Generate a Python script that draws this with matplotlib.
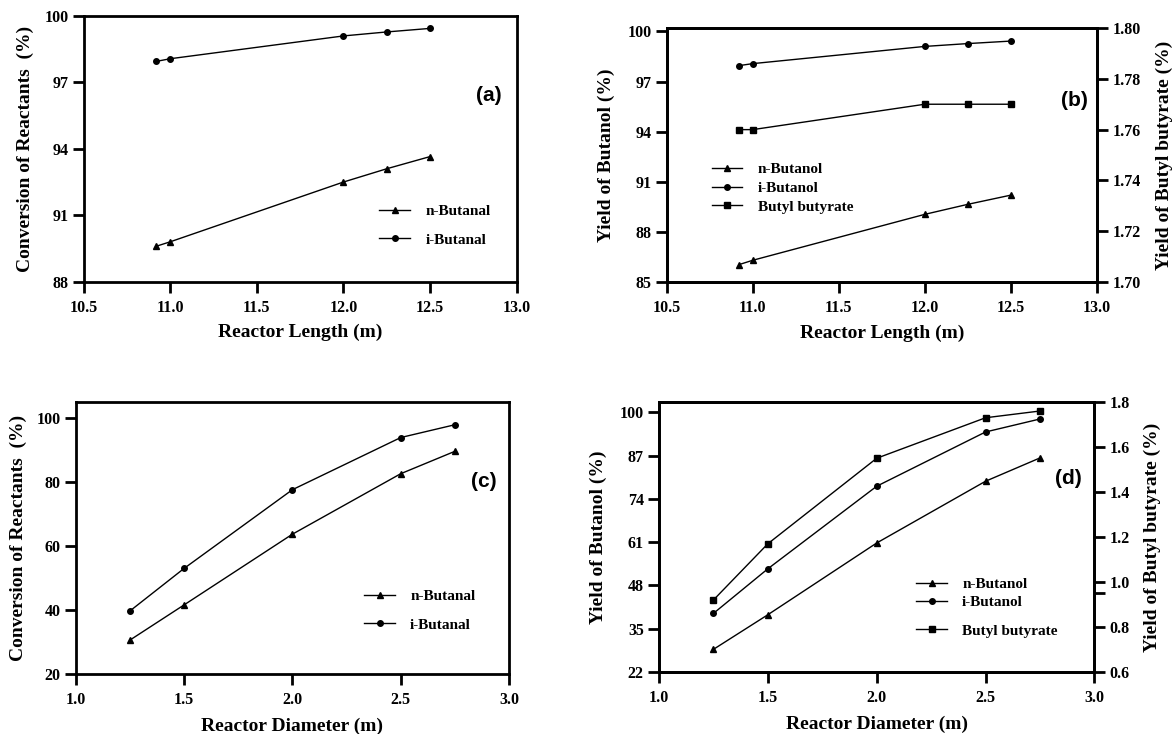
import matplotlib
matplotlib.use('Agg')
import matplotlib.pyplot as plt
from matplotlib.lines import Line2D
from matplotlib.ticker import FormatStrFormatter

plt.rcParams['font.family'] = ['Liberation Serif', 'DejaVu Serif']
plt.rcParams['font.weight'] = 'bold'
plt.rcParams['axes.labelweight'] = 'bold'

# reactor length runs
length = [10.92, 11.0, 12.0, 12.25, 12.5]
conv_n_len = [89.6, 89.8, 92.5, 93.1, 93.65]
conv_i_len = [97.95, 98.07, 99.1, 99.28, 99.44]
yield_n_len = [86.04, 86.3, 89.05, 89.65, 90.2]
yield_i_len = [97.95, 98.07, 99.1, 99.27, 99.42]
yield_bb_len = [1.76, 1.76, 1.77, 1.77, 1.77]

# reactor diameter runs
diameter = [1.25, 1.5, 2.0, 2.5, 2.75]
conv_n_dia = [30.6, 41.6, 63.7, 82.6, 89.6]
conv_i_dia = [39.7, 53.0, 77.6, 93.9, 97.9]
yield_n_dia = [28.8, 39.2, 60.75, 79.3, 86.3]
yield_i_dia = [39.6, 53.0, 77.8, 94.1, 98.0]
yield_bb_dia = [0.92, 1.17, 1.55, 1.73, 1.76]

LW = 1.0
TICK_FS = 11.5
LABEL_FS = 14
LEG_FS = 11


def style(ax):
    for s in ax.spines.values():
        s.set_linewidth(2.0)
    ax.tick_params(axis='both', which='both', direction='out', length=8,
                   width=2.0, labelsize=TICK_FS)
    ax.tick_params(axis='x', pad=5)
    ax.tick_params(axis='y', pad=3)
    ax.xaxis.set_major_formatter(FormatStrFormatter('%.1f'))


def handle(marker, ms):
    return Line2D([], [], color='black', lw=LW, marker=marker, markersize=ms)


def legend(ax, handles, labels, x, y, spacing):
    leg = ax.legend(handles, labels, loc='upper left', bbox_to_anchor=(x, y),
                    frameon=False, borderpad=0, borderaxespad=0,
                    handlelength=2.0, handletextpad=1.0, labelspacing=spacing,
                    prop={'size': LEG_FS, 'weight': 'bold'})
    return leg


def tag(ax, text, x, y):
    ax.text(x, y, text, transform=ax.transAxes, ha='center', va='center',
            fontsize=15, fontweight='bold', family=['Liberation Sans', 'DejaVu Sans'])


fig = plt.figure(figsize=(11.76, 7.34), dpi=100)

# (a) conversion vs length
ax = fig.add_axes([0.0711, 0.6163, 0.3683, 0.3619])
ax.plot(length, conv_n_len, '-^', color='black', lw=LW, ms=5)
ax.plot(length, conv_i_len, '-o', color='black', lw=LW, ms=4)
ax.set_xlim(10.5, 13.0)
ax.set_ylim(88, 100)
ax.set_xticks([10.5, 11.0, 11.5, 12.0, 12.5, 13.0])
ax.set_yticks([88, 91, 94, 97, 100])
style(ax)
ax.set_xlabel('Reactor Length (m)', fontsize=LABEL_FS, labelpad=6)
ax.set_ylabel('Conversion of Reactants  (%)', fontsize=LABEL_FS, labelpad=7)
legend(ax, [handle('^', 5), handle('o', 4)], ['n-Butanal', 'i-Butanal'],
       0.683, 0.29, 0.95)
tag(ax, '(a)', 0.935, 0.70)

# (b) yield vs length
ax = fig.add_axes([0.5669, 0.6158, 0.3659, 0.3460])
ax2 = ax.twinx()
ax.plot(length, yield_n_len, '-^', color='black', lw=LW, ms=5)
ax.plot(length, yield_i_len, '-o', color='black', lw=LW, ms=4)
ax2.plot(length, yield_bb_len, '-s', color='black', lw=LW, ms=4.5)
ax.set_xlim(10.5, 13.0)
ax.set_ylim(85, 100.2)
ax2.set_ylim(1.70, 1.80)
ax.set_xticks([10.5, 11.0, 11.5, 12.0, 12.5, 13.0])
ax.set_yticks([85, 88, 91, 94, 97, 100])
ax2.set_yticks([1.70, 1.72, 1.74, 1.76, 1.78, 1.80])
style(ax)
style(ax2)
ax2.yaxis.set_major_formatter(FormatStrFormatter('%.2f'))
ax.set_xlabel('Reactor Length (m)', fontsize=LABEL_FS, labelpad=6)
ax.set_ylabel('Yield of Butanol (%)', fontsize=LABEL_FS, labelpad=9)
ax2.set_ylabel('Yield of Butyl butyrate (%)', fontsize=LABEL_FS, labelpad=11)
legend(ax2, [handle('^', 5), handle('o', 4), handle('s', 4.5)],
       ['n-Butanol', 'i-Butanol', 'Butyl butyrate'], 0.105, 0.47, 0.33)
tag(ax, '(b)', 0.947, 0.716)

# (c) conversion vs diameter
ax = fig.add_axes([0.0644, 0.0817, 0.3685, 0.3706])
ax.plot(diameter, conv_n_dia, '-^', color='black', lw=LW, ms=5)
ax.plot(diameter, conv_i_dia, '-o', color='black', lw=LW, ms=4)
ax.set_xlim(1.0, 3.0)
ax.set_ylim(20, 105)
ax.set_xticks([1.0, 1.5, 2.0, 2.5, 3.0])
ax.set_yticks([20, 40, 60, 80, 100])
style(ax)
ax.set_xlabel('Reactor Diameter (m)', fontsize=LABEL_FS, labelpad=7)
ax.set_ylabel('Conversion of Reactants  (%)', fontsize=LABEL_FS, labelpad=7)
legend(ax, [handle('^', 5), handle('o', 4)], ['n-Butanal', 'i-Butanal'],
       0.666, 0.31, 0.95)
tag(ax, '(c)', 0.942, 0.707)

# (d) yield vs diameter
ax = fig.add_axes([0.5604, 0.0845, 0.3702, 0.3678])
ax2 = ax.twinx()
ax.plot(diameter, yield_n_dia, '-^', color='black', lw=LW, ms=5)
ax.plot(diameter, yield_i_dia, '-o', color='black', lw=LW, ms=4)
ax2.plot(diameter, yield_bb_dia, '-s', color='black', lw=LW, ms=4.5)
ax.set_xlim(1.0, 3.0)
ax.set_ylim(22, 103.1)
ax2.set_ylim(0.6, 1.8)
ax.set_xticks([1.0, 1.5, 2.0, 2.5, 3.0])
ax.set_yticks([22, 35, 48, 61, 74, 87, 100])
ax2.set_yticks([0.6, 0.8, 1.0, 1.2, 1.4, 1.6, 1.8])
ax2.set_yticks([0.95], minor=True)
style(ax)
style(ax2)
ax2.yaxis.set_major_formatter(FormatStrFormatter('%.1f'))
ax.set_xlabel('Reactor Diameter (m)', fontsize=LABEL_FS, labelpad=7)
ax.set_ylabel('Yield of Butanol (%)', fontsize=LABEL_FS, labelpad=9)
ax2.set_ylabel('Yield of Butyl butyrate (%)', fontsize=LABEL_FS, labelpad=10)
leg = legend(ax2, [handle('^', 5), handle('o', 4)], ['n-Butanol', 'i-Butanol'],
             0.591, 0.35, 0.3)
ax2.add_artist(leg)
legend(ax2, [handle('s', 4.5)], ['Butyl butyrate'], 0.591, 0.178, 0.1)
tag(ax, '(d)', 0.941, 0.717)

fig.savefig('out.png', dpi=100)
